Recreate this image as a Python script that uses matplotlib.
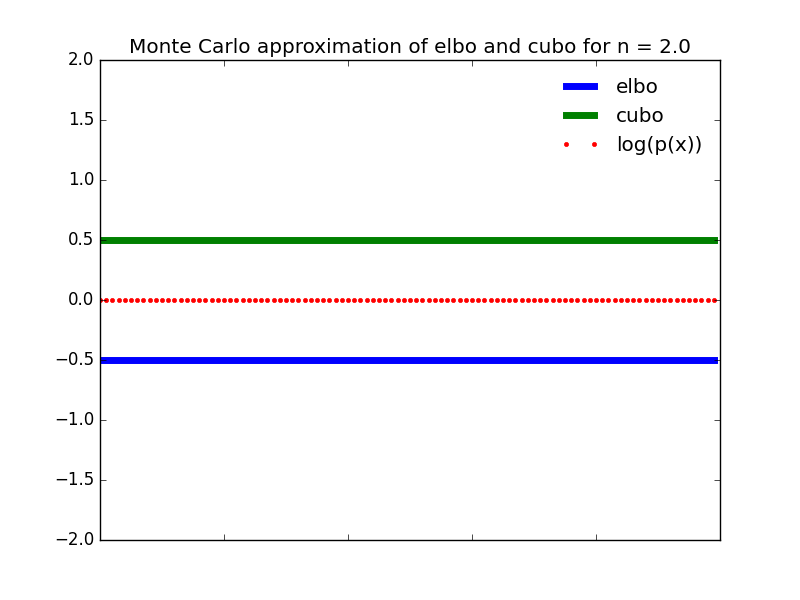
import numpy as np
import matplotlib
matplotlib.use("Agg")
import matplotlib.pyplot as plt

plt.style.use("classic")

# sample index and the three estimates (constant across samples)
steps = np.arange(100)
elbo_value = -0.5
cubo_value = 0.5
logp_value = 0.0
n = 2.0

elbo = np.full(len(steps), elbo_value)
cubo = np.full(len(steps), cubo_value)
logp = np.full(len(steps), logp_value)

fig = plt.figure(figsize=(8, 6), dpi=100)
ax = fig.add_subplot(111)
ax.plot(steps, elbo, color="b", linewidth=5, label="elbo")
ax.plot(steps, cubo, color="g", linewidth=5, label="cubo")
ax.plot(steps, logp, "r.", label="log(p(x))")
ax.set_ylim(-2, 2)
ax.set_xticklabels([])
ax.set_title("Monte Carlo approximation of elbo and cubo for n = " + str(n))
ax.legend(loc="upper right", frameon=False)

fig.savefig("out.png", dpi=100)
